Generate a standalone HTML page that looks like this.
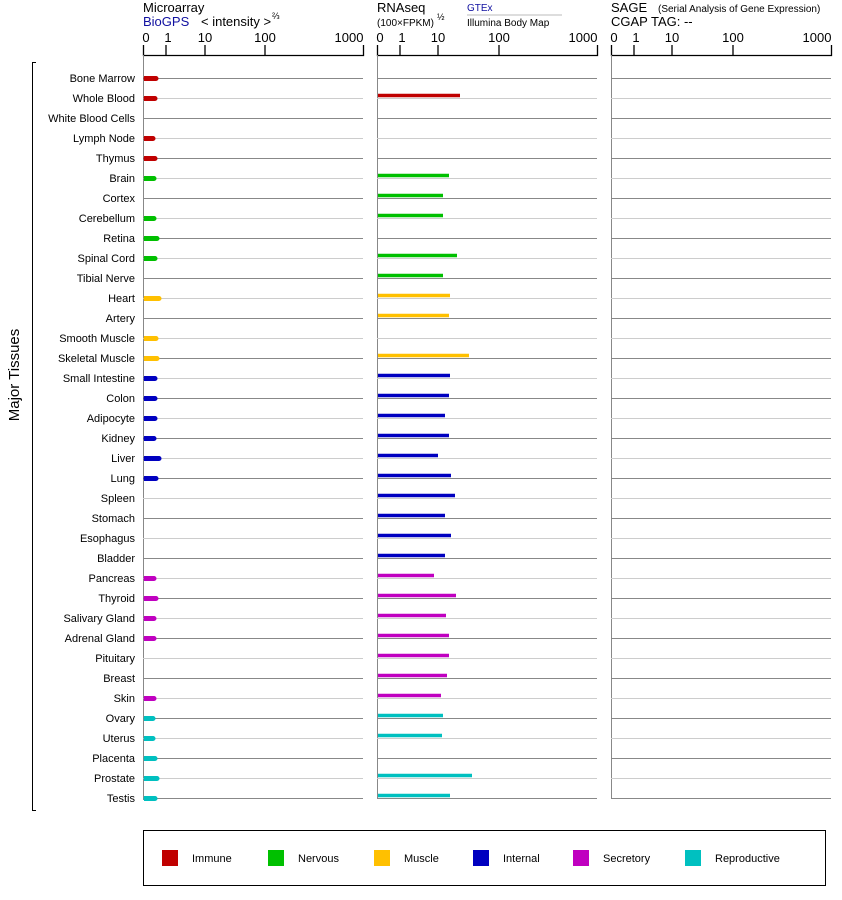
<!DOCTYPE html>
<html><head><meta charset="utf-8"><style>
body{margin:0;background:#fff;}
svg{display:block;font-family:"Liberation Sans",sans-serif;}
</style></head><body>
<svg width="842" height="900" xmlns="http://www.w3.org/2000/svg">
<g font-size="13" fill="#000">
<text x="143" y="12">Microarray</text>
<text x="143" y="26" fill="#1010a0">BioGPS</text>
<text x="201" y="26">&lt; intensity &gt;</text><text x="272" y="19" font-size="9">⅔</text>
<text x="377" y="12">RNAseq</text>
<text x="377" y="26" font-size="10">(100×FPKM)</text><text x="437" y="20" font-size="9">½</text>
<text x="467" y="11" font-size="10" fill="#1010a0">GTEx</text>
<line x1="467" y1="15" x2="562" y2="15" stroke="#bbb"/>
<text x="467" y="26" font-size="10">Illumina Body Map</text>
<text x="611" y="12">SAGE</text><text x="658" y="12" font-size="10">(Serial Analysis of Gene Expression)</text>
<text x="611" y="26">CGAP TAG:  --</text>
</g>
<g font-size="13" text-anchor="middle">
<text x="146" y="42">0</text><text x="168" y="42">1</text><text x="205" y="42">10</text><text x="265" y="42">100</text><text x="349" y="42">1000</text>
<text x="380" y="42">0</text><text x="402" y="42">1</text><text x="438" y="42">10</text><text x="499" y="42">100</text><text x="583" y="42">1000</text>
<text x="614" y="42">0</text><text x="636" y="42">1</text><text x="672" y="42">10</text><text x="733" y="42">100</text><text x="817" y="42">1000</text>
</g>
<g stroke="#000" stroke-width="1.3" fill="none">
<path d="M143.5 45V55.5H363.5V45M166 45v10M205 45v10M265 45v10"/>
<path d="M377.5 45V55.5H597.5V45M400 45v10M438 45v10M499 45v10"/>
<path d="M611.5 45V55.5H831.5V45M634 45v10M672 45v10M733 45v10"/>
<path d="M36 62.5H32.5V810.5H36" stroke-width="1"/>
</g>
<g stroke="#888"><line x1="143.5" y1="55" x2="143.5" y2="800"/><line x1="377.5" y1="55" x2="377.5" y2="799"/><line x1="611.5" y1="55" x2="611.5" y2="799"/></g>
<text transform="translate(19,375) rotate(-90)" text-anchor="middle" font-size="15">Major Tissues</text>
<g id="lines" stroke-width="1">
<path stroke="#888" d="M143 78.5H363M377 78.5H597M611 78.5H831M143 118.5H363M377 118.5H597M611 118.5H831M143 158.5H363M377 158.5H597M611 158.5H831M143 198.5H363M377 198.5H597M611 198.5H831M143 238.5H363M377 238.5H597M611 238.5H831M143 278.5H363M377 278.5H597M611 278.5H831M143 318.5H363M377 318.5H597M611 318.5H831M143 358.5H363M377 358.5H597M611 358.5H831M143 398.5H363M377 398.5H597M611 398.5H831M143 438.5H363M377 438.5H597M611 438.5H831M143 478.5H363M377 478.5H597M611 478.5H831M143 518.5H363M377 518.5H597M611 518.5H831M143 558.5H363M377 558.5H597M611 558.5H831M143 598.5H363M377 598.5H597M611 598.5H831M143 638.5H363M377 638.5H597M611 638.5H831M143 678.5H363M377 678.5H597M611 678.5H831M143 718.5H363M377 718.5H597M611 718.5H831M143 758.5H363M377 758.5H597M611 758.5H831M143 798.5H363M377 798.5H597M611 798.5H831"/>
<path stroke="#ccc" d="M143 98.5H363M377 98.5H597M611 98.5H831M143 138.5H363M377 138.5H597M611 138.5H831M143 178.5H363M377 178.5H597M611 178.5H831M143 218.5H363M377 218.5H597M611 218.5H831M143 258.5H363M377 258.5H597M611 258.5H831M143 298.5H363M377 298.5H597M611 298.5H831M143 338.5H363M377 338.5H597M611 338.5H831M143 378.5H363M377 378.5H597M611 378.5H831M143 418.5H363M377 418.5H597M611 418.5H831M143 458.5H363M377 458.5H597M611 458.5H831M143 498.5H363M377 498.5H597M611 498.5H831M143 538.5H363M377 538.5H597M611 538.5H831M143 578.5H363M377 578.5H597M611 578.5H831M143 618.5H363M377 618.5H597M611 618.5H831M143 658.5H363M377 658.5H597M611 658.5H831M143 698.5H363M377 698.5H597M611 698.5H831M143 738.5H363M377 738.5H597M611 738.5H831M143 778.5H363M377 778.5H597M611 778.5H831"/>
</g>
<g font-size="11" text-anchor="end">
<text x="135" y="82">Bone Marrow</text><text x="135" y="102">Whole Blood</text><text x="135" y="122">White Blood Cells</text><text x="135" y="142">Lymph Node</text><text x="135" y="162">Thymus</text><text x="135" y="182">Brain</text><text x="135" y="202">Cortex</text><text x="135" y="222">Cerebellum</text><text x="135" y="242">Retina</text><text x="135" y="262">Spinal Cord</text><text x="135" y="282">Tibial Nerve</text><text x="135" y="302">Heart</text><text x="135" y="322">Artery</text><text x="135" y="342">Smooth Muscle</text><text x="135" y="362">Skeletal Muscle</text><text x="135" y="382">Small Intestine</text><text x="135" y="402">Colon</text><text x="135" y="422">Adipocyte</text><text x="135" y="442">Kidney</text><text x="135" y="462">Liver</text><text x="135" y="482">Lung</text><text x="135" y="502">Spleen</text><text x="135" y="522">Stomach</text><text x="135" y="542">Esophagus</text><text x="135" y="562">Bladder</text><text x="135" y="582">Pancreas</text><text x="135" y="602">Thyroid</text><text x="135" y="622">Salivary Gland</text><text x="135" y="642">Adrenal Gland</text><text x="135" y="662">Pituitary</text><text x="135" y="682">Breast</text><text x="135" y="702">Skin</text><text x="135" y="722">Ovary</text><text x="135" y="742">Uterus</text><text x="135" y="762">Placenta</text><text x="135" y="782">Prostate</text><text x="135" y="802">Testis</text>
</g>
<g stroke-width="5" stroke-linecap="round">
<g stroke="#c00000"><path d="M146 78.5H156M146 98.5H155M146 138.5H153M146 158.5H155"/></g>
<g stroke="#00c000"><path d="M146 178.5H154M146 218.5H154M146 238.5H157M146 258.5H155"/></g>
<g stroke="#ffc000"><path d="M146 298.5H159M146 338.5H156M146 358.5H157"/></g>
<g stroke="#0000c0"><path d="M146 378.5H155M146 398.5H155M146 418.5H155M146 438.5H154M146 458.5H159M146 478.5H156"/></g>
<g stroke="#c000c0"><path d="M146 578.5H154M146 598.5H156M146 618.5H154M146 638.5H154M146 698.5H154"/></g>
<g stroke="#00c0c0"><path d="M146 718.5H153M146 738.5H153M146 758.5H155M146 778.5H157M146 798.5H155"/></g>
</g>
<g stroke-width="5">
<path stroke="#c00000" d="M144 78.5h3M144 98.5h3M144 138.5h3M144 158.5h3"/>
<path stroke="#00c000" d="M144 178.5h3M144 218.5h3M144 238.5h3M144 258.5h3"/>
<path stroke="#ffc000" d="M144 298.5h3M144 338.5h3M144 358.5h3"/>
<path stroke="#0000c0" d="M144 378.5h3M144 398.5h3M144 418.5h3M144 438.5h3M144 458.5h3M144 478.5h3"/>
<path stroke="#c000c0" d="M144 578.5h3M144 598.5h3M144 618.5h3M144 638.5h3M144 698.5h3"/>
<path stroke="#00c0c0" d="M144 718.5h3M144 738.5h3M144 758.5h3M144 778.5h3M144 798.5h3"/>
</g>
<g stroke-width="3.5">
<g stroke="#c00000"><path d="M378 95.5H460"/></g>
<g stroke="#00c000"><path d="M378 175.5H449M378 195.5H443M378 215.5H443M378 255.5H457M378 275.5H443"/></g>
<g stroke="#ffc000"><path d="M378 295.5H450M378 315.5H449M378 355.5H469"/></g>
<g stroke="#0000c0"><path d="M378 375.5H450M378 395.5H449M378 415.5H445M378 435.5H449M378 455.5H438M378 475.5H451M378 495.5H455M378 515.5H445M378 535.5H451M378 555.5H445"/></g>
<g stroke="#c000c0"><path d="M378 575.5H434M378 595.5H456M378 615.5H446M378 635.5H449M378 655.5H449M378 675.5H447M378 695.5H441"/></g>
<g stroke="#00c0c0"><path d="M378 715.5H443M378 735.5H442M378 775.5H472M378 795.5H450"/></g>
</g>
<rect x="143.5" y="830.5" width="682" height="55" fill="none" stroke="#000" stroke-width="1"/>
<rect x="162" y="850" width="16" height="16" fill="#c00000"/>
<rect x="268" y="850" width="16" height="16" fill="#00c000"/>
<rect x="374" y="850" width="16" height="16" fill="#ffc000"/>
<rect x="473" y="850" width="16" height="16" fill="#0000c0"/>
<rect x="573" y="850" width="16" height="16" fill="#c000c0"/>
<rect x="685" y="850" width="16" height="16" fill="#00c0c0"/>
<g font-size="11">
<text x="192" y="862">Immune</text><text x="298" y="862">Nervous</text><text x="404" y="862">Muscle</text><text x="503" y="862">Internal</text><text x="603" y="862">Secretory</text><text x="715" y="862">Reproductive</text>
</g>
</svg>
</body></html>
